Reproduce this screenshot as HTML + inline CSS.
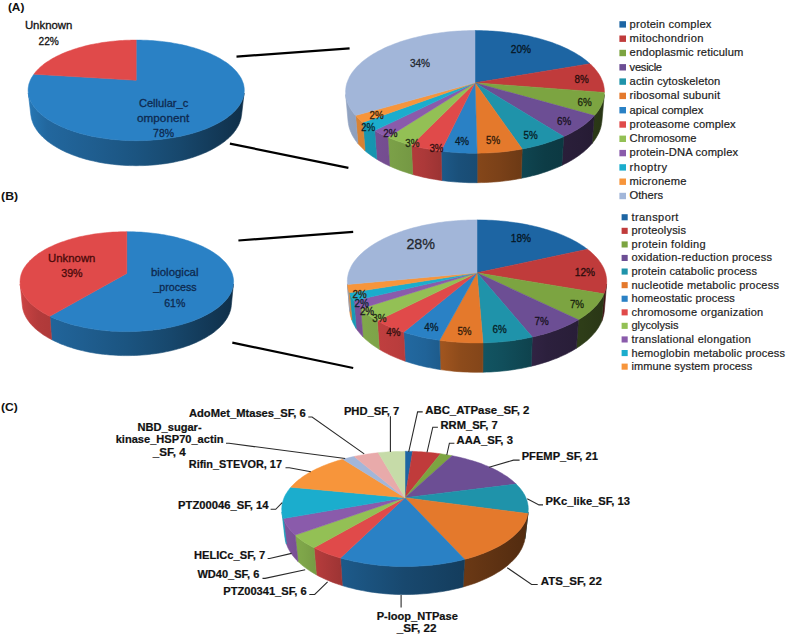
<!DOCTYPE html>
<html><head><meta charset="utf-8"><title>GO and superfamily pie charts</title>
<style>html,body{margin:0;padding:0;background:#fff;overflow:hidden;}svg{display:block;font-family:"Liberation Sans",Arial,sans-serif;}</style>
</head><body>
<svg width="787" height="636" viewBox="0 0 787 636">
<defs><linearGradient id="g1" gradientUnits="userSpaceOnUse" x1="25" y1="0" x2="247.4" y2="0"><stop offset="0" stop-color="#297dbf"/><stop offset="0.04" stop-color="#2572ad"/><stop offset="0.1" stop-color="#22679e"/><stop offset="0.3" stop-color="#1f5e90"/><stop offset="0.5" stop-color="#1b5480"/><stop offset="0.7" stop-color="#17476c"/><stop offset="0.85" stop-color="#133a59"/><stop offset="1" stop-color="#0f2e47"/></linearGradient>
<linearGradient id="g2" gradientUnits="userSpaceOnUse" x1="16.2" y1="0" x2="237.4" y2="0"><stop offset="0" stop-color="#297dbf"/><stop offset="0.04" stop-color="#2572ad"/><stop offset="0.1" stop-color="#22679e"/><stop offset="0.3" stop-color="#1f5e90"/><stop offset="0.5" stop-color="#1b5480"/><stop offset="0.7" stop-color="#17476c"/><stop offset="0.85" stop-color="#133a59"/><stop offset="1" stop-color="#0f2e47"/></linearGradient>
<linearGradient id="g3" gradientUnits="userSpaceOnUse" x1="16.2" y1="0" x2="237.4" y2="0"><stop offset="0" stop-color="#d94848"/><stop offset="0.04" stop-color="#c54141"/><stop offset="0.1" stop-color="#b33b3b"/><stop offset="0.3" stop-color="#a43636"/><stop offset="0.5" stop-color="#923030"/><stop offset="0.7" stop-color="#7b2929"/><stop offset="0.85" stop-color="#652121"/><stop offset="1" stop-color="#511b1b"/></linearGradient>
<linearGradient id="g4" gradientUnits="userSpaceOnUse" x1="340.6" y1="0" x2="609.4" y2="0"><stop offset="0" stop-color="#70943a"/><stop offset="0.2" stop-color="#678836"/><stop offset="0.31" stop-color="#5f7e32"/><stop offset="0.44" stop-color="#4d6628"/><stop offset="0.59" stop-color="#435923"/><stop offset="0.76" stop-color="#33431b"/><stop offset="0.89" stop-color="#2e3d18"/><stop offset="1" stop-color="#283415"/></linearGradient>
<linearGradient id="g5" gradientUnits="userSpaceOnUse" x1="340.6" y1="0" x2="609.4" y2="0"><stop offset="0" stop-color="#614685"/><stop offset="0.2" stop-color="#5a417b"/><stop offset="0.31" stop-color="#533c72"/><stop offset="0.44" stop-color="#43305c"/><stop offset="0.59" stop-color="#3a2a50"/><stop offset="0.76" stop-color="#2c203d"/><stop offset="0.89" stop-color="#281d37"/><stop offset="1" stop-color="#23192f"/></linearGradient>
<linearGradient id="g6" gradientUnits="userSpaceOnUse" x1="340.6" y1="0" x2="609.4" y2="0"><stop offset="0" stop-color="#1c8499"/><stop offset="0.2" stop-color="#1a7a8d"/><stop offset="0.31" stop-color="#187183"/><stop offset="0.44" stop-color="#135b69"/><stop offset="0.59" stop-color="#114f5c"/><stop offset="0.76" stop-color="#0d3c46"/><stop offset="0.89" stop-color="#0b363f"/><stop offset="1" stop-color="#0a2f36"/></linearGradient>
<linearGradient id="g7" gradientUnits="userSpaceOnUse" x1="340.6" y1="0" x2="609.4" y2="0"><stop offset="0" stop-color="#cd6d28"/><stop offset="0.2" stop-color="#bd6425"/><stop offset="0.31" stop-color="#b05d22"/><stop offset="0.44" stop-color="#8d4b1b"/><stop offset="0.59" stop-color="#7b4118"/><stop offset="0.76" stop-color="#5d3212"/><stop offset="0.89" stop-color="#542d10"/><stop offset="1" stop-color="#49270e"/></linearGradient>
<linearGradient id="g8" gradientUnits="userSpaceOnUse" x1="340.6" y1="0" x2="609.4" y2="0"><stop offset="0" stop-color="#2674b1"/><stop offset="0.2" stop-color="#236ba4"/><stop offset="0.31" stop-color="#206398"/><stop offset="0.44" stop-color="#1a507a"/><stop offset="0.59" stop-color="#17466a"/><stop offset="0.76" stop-color="#113551"/><stop offset="0.89" stop-color="#103049"/><stop offset="1" stop-color="#0d293f"/></linearGradient>
<linearGradient id="g9" gradientUnits="userSpaceOnUse" x1="340.6" y1="0" x2="609.4" y2="0"><stop offset="0" stop-color="#ca4343"/><stop offset="0.2" stop-color="#ba3d3d"/><stop offset="0.31" stop-color="#ac3939"/><stop offset="0.44" stop-color="#8b2e2e"/><stop offset="0.59" stop-color="#792828"/><stop offset="0.76" stop-color="#5c1e1e"/><stop offset="0.89" stop-color="#531b1b"/><stop offset="1" stop-color="#481818"/></linearGradient>
<linearGradient id="g10" gradientUnits="userSpaceOnUse" x1="340.6" y1="0" x2="609.4" y2="0"><stop offset="0" stop-color="#84ad4c"/><stop offset="0.2" stop-color="#7a9f47"/><stop offset="0.31" stop-color="#719441"/><stop offset="0.44" stop-color="#5b7735"/><stop offset="0.59" stop-color="#4f682e"/><stop offset="0.76" stop-color="#3c4f23"/><stop offset="0.89" stop-color="#36471f"/><stop offset="1" stop-color="#2f3d1b"/></linearGradient>
<linearGradient id="g11" gradientUnits="userSpaceOnUse" x1="340.6" y1="0" x2="609.4" y2="0"><stop offset="0" stop-color="#7c529a"/><stop offset="0.2" stop-color="#734c8e"/><stop offset="0.31" stop-color="#6a4684"/><stop offset="0.44" stop-color="#56386a"/><stop offset="0.59" stop-color="#4b315c"/><stop offset="0.76" stop-color="#392546"/><stop offset="0.89" stop-color="#33223f"/><stop offset="1" stop-color="#2c1d37"/></linearGradient>
<linearGradient id="g12" gradientUnits="userSpaceOnUse" x1="340.6" y1="0" x2="609.4" y2="0"><stop offset="0" stop-color="#189cb8"/><stop offset="0.2" stop-color="#1690aa"/><stop offset="0.31" stop-color="#15859e"/><stop offset="0.44" stop-color="#116b7f"/><stop offset="0.59" stop-color="#0f5d6f"/><stop offset="0.76" stop-color="#0b4754"/><stop offset="0.89" stop-color="#0a404c"/><stop offset="1" stop-color="#093742"/></linearGradient>
<linearGradient id="g13" gradientUnits="userSpaceOnUse" x1="340.6" y1="0" x2="609.4" y2="0"><stop offset="0" stop-color="#de8635"/><stop offset="0.2" stop-color="#cd7c31"/><stop offset="0.31" stop-color="#be732d"/><stop offset="0.44" stop-color="#995c25"/><stop offset="0.59" stop-color="#855020"/><stop offset="0.76" stop-color="#653d18"/><stop offset="0.89" stop-color="#5b3716"/><stop offset="1" stop-color="#4f3013"/></linearGradient>
<linearGradient id="g14" gradientUnits="userSpaceOnUse" x1="340.6" y1="0" x2="609.4" y2="0"><stop offset="0" stop-color="#92a4c3"/><stop offset="0.2" stop-color="#8697b4"/><stop offset="0.31" stop-color="#7d8ca7"/><stop offset="0.44" stop-color="#647187"/><stop offset="0.59" stop-color="#576275"/><stop offset="0.76" stop-color="#424b59"/><stop offset="0.89" stop-color="#3c4350"/><stop offset="1" stop-color="#343a45"/></linearGradient>
<linearGradient id="g15" gradientUnits="userSpaceOnUse" x1="342.2" y1="0" x2="611.8" y2="0"><stop offset="0" stop-color="#ad3535"/><stop offset="0.2" stop-color="#9f3131"/><stop offset="0.31" stop-color="#942d2d"/><stop offset="0.44" stop-color="#772525"/><stop offset="0.59" stop-color="#682020"/><stop offset="0.76" stop-color="#4f1818"/><stop offset="0.89" stop-color="#471616"/><stop offset="1" stop-color="#3d1313"/></linearGradient>
<linearGradient id="g16" gradientUnits="userSpaceOnUse" x1="342.2" y1="0" x2="611.8" y2="0"><stop offset="0" stop-color="#70943a"/><stop offset="0.2" stop-color="#678836"/><stop offset="0.31" stop-color="#5f7e32"/><stop offset="0.44" stop-color="#4d6628"/><stop offset="0.59" stop-color="#435923"/><stop offset="0.76" stop-color="#33431b"/><stop offset="0.89" stop-color="#2e3d18"/><stop offset="1" stop-color="#283415"/></linearGradient>
<linearGradient id="g17" gradientUnits="userSpaceOnUse" x1="342.2" y1="0" x2="611.8" y2="0"><stop offset="0" stop-color="#614685"/><stop offset="0.2" stop-color="#5a417b"/><stop offset="0.31" stop-color="#533c72"/><stop offset="0.44" stop-color="#43305c"/><stop offset="0.59" stop-color="#3a2a50"/><stop offset="0.76" stop-color="#2c203d"/><stop offset="0.89" stop-color="#281d37"/><stop offset="1" stop-color="#23192f"/></linearGradient>
<linearGradient id="g18" gradientUnits="userSpaceOnUse" x1="342.2" y1="0" x2="611.8" y2="0"><stop offset="0" stop-color="#1c8499"/><stop offset="0.2" stop-color="#1a7a8d"/><stop offset="0.31" stop-color="#187183"/><stop offset="0.44" stop-color="#135b69"/><stop offset="0.59" stop-color="#114f5c"/><stop offset="0.76" stop-color="#0d3c46"/><stop offset="0.89" stop-color="#0b363f"/><stop offset="1" stop-color="#0a2f36"/></linearGradient>
<linearGradient id="g19" gradientUnits="userSpaceOnUse" x1="342.2" y1="0" x2="611.8" y2="0"><stop offset="0" stop-color="#cd6d28"/><stop offset="0.2" stop-color="#bd6425"/><stop offset="0.31" stop-color="#b05d22"/><stop offset="0.44" stop-color="#8d4b1b"/><stop offset="0.59" stop-color="#7b4118"/><stop offset="0.76" stop-color="#5d3212"/><stop offset="0.89" stop-color="#542d10"/><stop offset="1" stop-color="#49270e"/></linearGradient>
<linearGradient id="g20" gradientUnits="userSpaceOnUse" x1="342.2" y1="0" x2="611.8" y2="0"><stop offset="0" stop-color="#2674b1"/><stop offset="0.2" stop-color="#236ba4"/><stop offset="0.31" stop-color="#206398"/><stop offset="0.44" stop-color="#1a507a"/><stop offset="0.59" stop-color="#17466a"/><stop offset="0.76" stop-color="#113551"/><stop offset="0.89" stop-color="#103049"/><stop offset="1" stop-color="#0d293f"/></linearGradient>
<linearGradient id="g21" gradientUnits="userSpaceOnUse" x1="342.2" y1="0" x2="611.8" y2="0"><stop offset="0" stop-color="#ca4343"/><stop offset="0.2" stop-color="#ba3d3d"/><stop offset="0.31" stop-color="#ac3939"/><stop offset="0.44" stop-color="#8b2e2e"/><stop offset="0.59" stop-color="#792828"/><stop offset="0.76" stop-color="#5c1e1e"/><stop offset="0.89" stop-color="#531b1b"/><stop offset="1" stop-color="#481818"/></linearGradient>
<linearGradient id="g22" gradientUnits="userSpaceOnUse" x1="342.2" y1="0" x2="611.8" y2="0"><stop offset="0" stop-color="#84ad4c"/><stop offset="0.2" stop-color="#7a9f47"/><stop offset="0.31" stop-color="#719441"/><stop offset="0.44" stop-color="#5b7735"/><stop offset="0.59" stop-color="#4f682e"/><stop offset="0.76" stop-color="#3c4f23"/><stop offset="0.89" stop-color="#36471f"/><stop offset="1" stop-color="#2f3d1b"/></linearGradient>
<linearGradient id="g23" gradientUnits="userSpaceOnUse" x1="342.2" y1="0" x2="611.8" y2="0"><stop offset="0" stop-color="#7c529a"/><stop offset="0.2" stop-color="#734c8e"/><stop offset="0.31" stop-color="#6a4684"/><stop offset="0.44" stop-color="#56386a"/><stop offset="0.59" stop-color="#4b315c"/><stop offset="0.76" stop-color="#392546"/><stop offset="0.89" stop-color="#33223f"/><stop offset="1" stop-color="#2c1d37"/></linearGradient>
<linearGradient id="g24" gradientUnits="userSpaceOnUse" x1="342.2" y1="0" x2="611.8" y2="0"><stop offset="0" stop-color="#189cb8"/><stop offset="0.2" stop-color="#1690aa"/><stop offset="0.31" stop-color="#15859e"/><stop offset="0.44" stop-color="#116b7f"/><stop offset="0.59" stop-color="#0f5d6f"/><stop offset="0.76" stop-color="#0b4754"/><stop offset="0.89" stop-color="#0a404c"/><stop offset="1" stop-color="#093742"/></linearGradient>
<linearGradient id="g25" gradientUnits="userSpaceOnUse" x1="342.2" y1="0" x2="611.8" y2="0"><stop offset="0" stop-color="#de8635"/><stop offset="0.2" stop-color="#cd7c31"/><stop offset="0.31" stop-color="#be732d"/><stop offset="0.44" stop-color="#995c25"/><stop offset="0.59" stop-color="#855020"/><stop offset="0.76" stop-color="#653d18"/><stop offset="0.89" stop-color="#5b3716"/><stop offset="1" stop-color="#4f3013"/></linearGradient>
<linearGradient id="g26" gradientUnits="userSpaceOnUse" x1="342.2" y1="0" x2="611.8" y2="0"><stop offset="0" stop-color="#92a4c3"/><stop offset="0.2" stop-color="#8697b4"/><stop offset="0.31" stop-color="#7d8ca7"/><stop offset="0.44" stop-color="#647187"/><stop offset="0.59" stop-color="#576275"/><stop offset="0.76" stop-color="#424b59"/><stop offset="0.89" stop-color="#3c4350"/><stop offset="1" stop-color="#343a45"/></linearGradient>
<linearGradient id="g27" gradientUnits="userSpaceOnUse" x1="278.1" y1="0" x2="531.9" y2="0"><stop offset="0" stop-color="#1d879c"/><stop offset="0.1" stop-color="#1b7e92"/><stop offset="0.25" stop-color="#166777"/><stop offset="0.5" stop-color="#11525f"/><stop offset="0.73" stop-color="#0f4550"/><stop offset="1" stop-color="#0b333b"/></linearGradient>
<linearGradient id="g28" gradientUnits="userSpaceOnUse" x1="278.1" y1="0" x2="531.9" y2="0"><stop offset="0" stop-color="#d26f28"/><stop offset="0.1" stop-color="#c46826"/><stop offset="0.25" stop-color="#a0551f"/><stop offset="0.5" stop-color="#804419"/><stop offset="0.73" stop-color="#6b3915"/><stop offset="1" stop-color="#502a0f"/></linearGradient>
<linearGradient id="g29" gradientUnits="userSpaceOnUse" x1="278.1" y1="0" x2="531.9" y2="0"><stop offset="0" stop-color="#2777b5"/><stop offset="0.1" stop-color="#246fa9"/><stop offset="0.25" stop-color="#1d5a8a"/><stop offset="0.5" stop-color="#18486e"/><stop offset="0.73" stop-color="#143d5d"/><stop offset="1" stop-color="#0f2d45"/></linearGradient>
<linearGradient id="g30" gradientUnits="userSpaceOnUse" x1="278.1" y1="0" x2="531.9" y2="0"><stop offset="0" stop-color="#ce4444"/><stop offset="0.1" stop-color="#c14040"/><stop offset="0.25" stop-color="#9d3434"/><stop offset="0.5" stop-color="#7d2929"/><stop offset="0.73" stop-color="#692323"/><stop offset="1" stop-color="#4e1a1a"/></linearGradient>
<linearGradient id="g31" gradientUnits="userSpaceOnUse" x1="278.1" y1="0" x2="531.9" y2="0"><stop offset="0" stop-color="#87b14e"/><stop offset="0.1" stop-color="#7ea549"/><stop offset="0.25" stop-color="#67863b"/><stop offset="0.5" stop-color="#526c30"/><stop offset="0.73" stop-color="#455a28"/><stop offset="1" stop-color="#33431e"/></linearGradient>
<linearGradient id="g32" gradientUnits="userSpaceOnUse" x1="278.1" y1="0" x2="531.9" y2="0"><stop offset="0" stop-color="#7f549d"/><stop offset="0.1" stop-color="#774e93"/><stop offset="0.25" stop-color="#614078"/><stop offset="0.5" stop-color="#4d3360"/><stop offset="0.73" stop-color="#412b50"/><stop offset="1" stop-color="#30203c"/></linearGradient>
<linearGradient id="g33" gradientUnits="userSpaceOnUse" x1="278.1" y1="0" x2="531.9" y2="0"><stop offset="0" stop-color="#199fbd"/><stop offset="0.1" stop-color="#1795b0"/><stop offset="0.25" stop-color="#137990"/><stop offset="0.5" stop-color="#0f6173"/><stop offset="0.73" stop-color="#0d5160"/><stop offset="1" stop-color="#093d48"/></linearGradient></defs>
<rect width="787" height="636" fill="#fff"/>
<polygon fill="url(#g1)" stroke="url(#g1)" stroke-width="0.6" points="244.1,93.1 243.9,94.5 243.6,95.9 243.3,97.3 242.8,98.6 242.3,100 241.7,101.4 241,102.8 240.2,104.1 239.3,105.5 238.3,106.9 237.2,108.2 236.1,109.6 234.9,110.9 233.5,112.2 232.1,113.6 230.6,114.9 229,116.1 227.3,117.4 225.6,118.7 223.7,119.9 221.8,121.1 219.7,122.3 217.6,123.5 215.4,124.6 213.1,125.7 210.7,126.8 208.3,127.8 205.8,128.9 203.2,129.8 200.5,130.8 197.8,131.7 195,132.6 192.1,133.4 189.1,134.2 186.1,135 183.1,135.7 180,136.4 176.8,137 173.6,137.6 170.3,138.1 167,138.6 163.7,139 160.3,139.4 156.9,139.7 153.5,140 150.1,140.3 146.6,140.4 143.2,140.6 139.7,140.6 136.2,140.7 132.7,140.6 129.2,140.6 125.8,140.4 122.3,140.3 118.9,140 115.5,139.7 112.1,139.4 108.7,139 105.4,138.6 102.1,138.1 98.8,137.6 95.6,137 92.4,136.4 89.3,135.7 86.3,135 83.3,134.2 80.3,133.4 77.4,132.6 74.6,131.7 71.9,130.8 69.2,129.8 66.6,128.9 64.1,127.8 61.7,126.8 59.3,125.7 57,124.6 54.8,123.5 52.7,122.3 50.6,121.1 48.7,119.9 46.8,118.7 45.1,117.4 43.4,116.1 41.8,114.9 40.3,113.6 38.9,112.2 37.5,110.9 36.3,109.6 35.2,108.2 34.1,106.9 33.1,105.5 32.2,104.1 31.4,102.8 30.7,101.4 30.1,100 29.6,98.6 29.1,97.3 28.8,95.9 28.5,94.5 28.3,93.1 30.9,115.5 31.2,116.9 31.4,118.4 31.8,119.8 32.3,121.3 32.8,122.8 33.4,124.2 34.1,125.7 34.9,127.1 35.8,128.6 36.7,130 37.8,131.4 38.9,132.9 40.1,134.3 41.4,135.7 42.8,137.1 44.3,138.5 45.9,139.8 47.5,141.2 49.3,142.5 51.1,143.8 53,145.1 55,146.3 57,147.5 59.2,148.7 61.4,149.9 63.7,151.1 66.1,152.2 68.6,153.2 71.1,154.3 73.7,155.3 76.4,156.2 79.1,157.2 81.9,158.1 84.8,158.9 87.7,159.7 90.7,160.4 93.7,161.1 96.8,161.8 99.9,162.4 103.1,163 106.3,163.5 109.5,163.9 112.8,164.3 116.1,164.7 119.4,165 122.7,165.2 126.1,165.4 129.4,165.6 132.8,165.6 136.2,165.7 139.6,165.6 143,165.6 146.3,165.4 149.7,165.2 153,165 156.3,164.7 159.6,164.3 162.9,163.9 166.1,163.5 169.3,163 172.5,162.4 175.6,161.8 178.7,161.1 181.7,160.4 184.7,159.7 187.6,158.9 190.5,158.1 193.3,157.2 196,156.2 198.7,155.3 201.3,154.3 203.8,153.2 206.3,152.2 208.7,151.1 211,149.9 213.2,148.7 215.4,147.5 217.4,146.3 219.4,145.1 221.3,143.8 223.1,142.5 224.9,141.2 226.5,139.8 228.1,138.5 229.6,137.1 231,135.7 232.3,134.3 233.5,132.9 234.6,131.4 235.7,130 236.6,128.6 237.5,127.1 238.3,125.7 239,124.2 239.6,122.8 240.1,121.3 240.6,119.8 241,118.4 241.2,116.9 241.5,115.5"/>
<polygon fill="#2a81c5" stroke="#2a81c5" stroke-width="0.5" stroke-linejoin="round" points="136.2,80.3 136.2,40.1 138.5,40.1 140.8,40.1 143.1,40.2 145.4,40.2 147.7,40.3 150,40.5 152.3,40.6 154.6,40.8 156.9,41 159.2,41.2 161.4,41.4 163.7,41.7 165.9,42 168.2,42.3 170.4,42.6 172.6,43 174.8,43.4 177,43.8 179.2,44.2 181.3,44.6 183.5,45.1 185.6,45.6 187.7,46.1 189.8,46.7 191.8,47.2 193.9,47.8 195.9,48.4 197.9,49.1 199.9,49.7 201.8,50.4 203.7,51.1 205.6,51.8 207.5,52.5 209.3,53.3 211.1,54.1 212.9,54.9 214.6,55.7 216.3,56.6 218,57.5 219.6,58.3 221.2,59.3 222.7,60.2 224.2,61.2 225.7,62.1 227.1,63.1 228.5,64.1 229.8,65.2 231.1,66.2 232.3,67.3 233.5,68.4 234.6,69.5 235.7,70.7 236.7,71.8 237.6,73 238.5,74.2 239.4,75.4 240.1,76.6 240.9,77.8 241.5,79 242.1,80.3 242.6,81.6 243.1,82.9 243.5,84.1 243.8,85.5 244,86.8 244.2,88.1 244.3,89.4 244.3,90.8 244.2,92.1 244.1,93.5 243.9,94.8 243.6,96.2 243.2,97.6 242.7,98.9 242.1,100.3 241.5,101.7 240.8,103.1 240,104.4 239.1,105.8 238.1,107.1 237,108.5 235.9,109.8 234.6,111.2 233.3,112.5 231.9,113.8 230.3,115.1 228.7,116.4 227.1,117.6 225.3,118.9 223.4,120.1 221.5,121.3 219.4,122.5 217.3,123.6 215.1,124.7 212.8,125.8 210.5,126.9 208,128 205.5,129 202.9,129.9 200.2,130.9 197.5,131.8 194.7,132.7 191.8,133.5 188.9,134.3 185.9,135 182.9,135.7 179.8,136.4 176.6,137 173.4,137.6 170.2,138.1 166.9,138.6 163.6,139 160.2,139.4 156.8,139.7 153.4,140 150,140.3 146.6,140.4 143.1,140.6 139.7,140.6 136.2,140.7 132.7,140.6 129.3,140.6 125.8,140.4 122.4,140.3 119,140 115.6,139.7 112.2,139.4 108.8,139 105.5,138.6 102.2,138.1 99,137.6 95.8,137 92.6,136.4 89.5,135.7 86.5,135 83.5,134.3 80.6,133.5 77.7,132.7 74.9,131.8 72.2,130.9 69.5,129.9 66.9,129 64.4,128 61.9,126.9 59.6,125.8 57.3,124.7 55.1,123.6 53,122.5 50.9,121.3 49,120.1 47.1,118.9 45.3,117.6 43.7,116.4 42.1,115.1 40.5,113.8 39.1,112.5 37.8,111.2 36.5,109.8 35.4,108.5 34.3,107.1 33.3,105.8 32.4,104.4 31.6,103.1 30.9,101.7 30.3,100.3 29.7,98.9 29.2,97.6 28.8,96.2 28.5,94.8 28.3,93.5 28.2,92.1 28.1,90.8 28.1,89.4 28.2,88.1 28.4,86.8 28.6,85.5 28.9,84.1 29.3,82.9 29.8,81.6 30.3,80.3 30.9,79 31.5,77.8 32.3,76.6 33,75.4 33.9,74.2"/>
<polygon fill="#e04a4a" stroke="#e04a4a" stroke-width="0.5" stroke-linejoin="round" points="136.2,80.3 33.9,74.2 34.8,73 35.7,71.8 36.7,70.7 37.8,69.5 38.9,68.4 40.1,67.3 41.3,66.2 42.6,65.2 43.9,64.1 45.3,63.1 46.7,62.1 48.2,61.2 49.7,60.2 51.2,59.3 52.8,58.3 54.4,57.5 56.1,56.6 57.8,55.7 59.5,54.9 61.3,54.1 63.1,53.3 64.9,52.5 66.8,51.8 68.7,51.1 70.6,50.4 72.5,49.7 74.5,49.1 76.5,48.4 78.5,47.8 80.6,47.2 82.6,46.7 84.7,46.1 86.8,45.6 88.9,45.1 91.1,44.6 93.2,44.2 95.4,43.8 97.6,43.4 99.8,43 102,42.6 104.2,42.3 106.5,42 108.7,41.7 111,41.4 113.2,41.2 115.5,41 117.8,40.8 120.1,40.6 122.4,40.5 124.7,40.3 127,40.2 129.3,40.2 131.6,40.1 133.9,40.1 136.2,40.1"/>
<polygon fill="url(#g2)" stroke="url(#g2)" stroke-width="0.6" points="233.4,284 233.3,285.3 233,286.6 232.7,288 232.3,289.3 231.8,290.7 231.2,292 230.6,293.4 229.8,294.7 229,296.1 228.1,297.4 227.1,298.7 226.1,300 224.9,301.3 223.7,302.6 222.3,303.9 220.9,305.2 219.5,306.5 217.9,307.7 216.2,308.9 214.5,310.1 212.7,311.3 210.8,312.5 208.8,313.6 206.8,314.8 204.6,315.8 202.4,316.9 200.1,318 197.8,319 195.4,319.9 192.9,320.9 190.3,321.8 187.7,322.7 185,323.5 182.3,324.3 179.5,325.1 176.6,325.8 173.7,326.5 170.7,327.2 167.7,327.8 164.7,328.4 161.6,328.9 158.4,329.4 155.3,329.8 152.1,330.2 148.9,330.5 145.6,330.8 142.4,331.1 139.1,331.3 135.8,331.4 132.5,331.5 129.2,331.6 125.8,331.6 122.5,331.6 119.2,331.5 115.9,331.3 112.6,331.2 109.4,330.9 106.1,330.7 102.9,330.3 99.7,330 96.5,329.5 93.3,329.1 90.2,328.6 87.2,328 84.1,327.4 81.2,326.8 78.2,326.1 75.3,325.4 72.5,324.7 69.8,323.9 67,323 64.4,322.2 61.8,321.3 59.3,320.3 56.8,319.4 54.5,318.4 52.1,317.4 49.9,316.3 51.6,339.6 53.8,340.7 56.1,341.8 58.4,342.8 60.8,343.9 63.3,344.8 65.8,345.8 68.4,346.7 71.1,347.5 73.8,348.4 76.5,349.2 79.3,349.9 82.2,350.6 85.1,351.3 88.1,351.9 91.1,352.5 94.1,353 97.2,353.5 100.3,353.9 103.4,354.3 106.6,354.6 109.8,354.9 113,355.1 116.2,355.3 119.4,355.5 122.6,355.6 125.9,355.6 129.1,355.6 132.3,355.5 135.6,355.4 138.8,355.3 142,355 145.2,354.8 148.4,354.5 151.5,354.1 154.6,353.7 157.7,353.3 160.8,352.8 163.8,352.2 166.8,351.6 169.7,351 172.6,350.3 175.5,349.6 178.2,348.8 181,348 183.7,347.2 186.3,346.3 188.9,345.4 191.4,344.4 193.8,343.4 196.2,342.4 198.5,341.3 200.7,340.3 202.9,339.1 205,338 207,336.8 208.9,335.6 210.8,334.4 212.6,333.2 214.3,331.9 215.9,330.6 217.4,329.3 218.9,328 220.3,326.7 221.6,325.3 222.8,324 224,322.6 225,321.2 226,319.8 226.9,318.4 227.7,317 228.4,315.6 229.1,314.2 229.6,312.8 230.1,311.4 230.5,310 230.9,308.6 231.1,307.2 231.3,305.7"/>
<polygon fill="url(#g3)" stroke="url(#g3)" stroke-width="0.6" points="49.9,316.3 47.7,315.2 45.6,314.1 43.5,312.9 41.6,311.7 39.7,310.5 37.9,309.3 36.2,308.1 34.6,306.8 33.1,305.5 31.6,304.3 30.2,303 29,301.6 27.8,300.3 26.7,299 25.6,297.6 24.7,296.3 23.9,294.9 23.1,293.5 22.4,292.2 21.8,290.8 21.3,289.4 20.9,288.1 20.6,286.7 20.3,285.3 20.2,284 22.3,305.7 22.5,307.2 22.7,308.6 23.1,310 23.5,311.5 24,312.9 24.6,314.4 25.3,315.8 26,317.2 26.9,318.7 27.8,320.1 28.8,321.5 29.9,322.9 31,324.3 32.3,325.7 33.7,327 35.1,328.4 36.6,329.7 38.2,331 39.9,332.3 41.6,333.6 43.5,334.9 45.4,336.1 47.4,337.3 49.5,338.5 51.6,339.6"/>
<polygon fill="#2a81c5" stroke="#2a81c5" stroke-width="0.5" stroke-linejoin="round" points="126.8,273.4 126.8,231.7 129.2,231.7 131.5,231.7 133.9,231.8 136.3,231.9 138.6,232 141,232.1 143.4,232.3 145.7,232.5 148,232.7 150.4,232.9 152.7,233.2 155,233.5 157.3,233.8 159.6,234.1 161.9,234.5 164.1,234.8 166.4,235.2 168.6,235.7 170.8,236.1 173,236.6 175.2,237.1 177.3,237.6 179.4,238.2 181.5,238.8 183.6,239.3 185.7,240 187.7,240.6 189.7,241.3 191.7,242 193.6,242.7 195.6,243.4 197.4,244.2 199.3,245 201.1,245.8 202.9,246.6 204.6,247.4 206.3,248.3 208,249.2 209.6,250.1 211.2,251.1 212.8,252 214.3,253 215.7,254 217.1,255 218.5,256 219.8,257.1 221,258.2 222.2,259.3 223.4,260.4 224.5,261.5 225.5,262.6 226.5,263.8 227.4,265 228.3,266.2 229.1,267.4 229.9,268.6 230.5,269.8 231.1,271.1 231.7,272.3 232.2,273.6 232.6,274.9 232.9,276.2 233.2,277.5 233.4,278.8 233.5,280.1 233.6,281.4 233.5,282.8 233.4,284.1 233.3,285.5 233,286.8 232.7,288.1 232.2,289.5 231.7,290.8 231.2,292.2 230.5,293.5 229.8,294.9 228.9,296.2 228,297.5 227,298.9 225.9,300.2 224.8,301.5 223.5,302.8 222.2,304.1 220.8,305.3 219.3,306.6 217.7,307.8 216.1,309 214.3,310.2 212.5,311.4 210.6,312.6 208.6,313.7 206.6,314.8 204.4,315.9 202.2,317 200,318 197.6,319 195.2,320 192.7,321 190.1,321.9 187.5,322.7 184.8,323.6 182.1,324.4 179.3,325.2 176.4,325.9 173.5,326.6 170.5,327.2 167.5,327.8 164.5,328.4 161.4,328.9 158.3,329.4 155.1,329.8 151.9,330.2 148.7,330.5 145.5,330.8 142.2,331.1 138.9,331.3 135.6,331.4 132.3,331.5 129,331.6 125.7,331.6 122.4,331.6 119.1,331.5 115.8,331.3 112.5,331.2 109.3,330.9 106,330.6 102.8,330.3 99.6,330 96.4,329.5 93.3,329.1 90.2,328.6 87.1,328 84.1,327.4 81.1,326.8 78.2,326.1 75.3,325.4 72.5,324.7 69.7,323.9 67,323 64.4,322.2 61.8,321.3 59.3,320.3 56.8,319.4 54.4,318.4 52.1,317.4 49.9,316.3"/>
<polygon fill="#e04a4a" stroke="#e04a4a" stroke-width="0.5" stroke-linejoin="round" points="126.8,273.4 49.9,316.3 47.7,315.2 45.6,314.1 43.6,313 41.7,311.8 39.8,310.6 38.1,309.4 36.4,308.2 34.8,307 33.2,305.7 31.8,304.4 30.4,303.2 29.2,301.9 28,300.6 26.9,299.2 25.9,297.9 24.9,296.6 24.1,295.2 23.3,293.9 22.6,292.6 22,291.2 21.5,289.8 21,288.5 20.7,287.1 20.4,285.8 20.2,284.4 20.1,283.1 20,281.8 20.1,280.4 20.2,279.1 20.4,277.8 20.6,276.5 20.9,275.2 21.3,273.9 21.8,272.6 22.3,271.3 22.9,270.1 23.6,268.8 24.3,267.6 25.1,266.4 26,265.2 26.9,264 27.9,262.9 28.9,261.7 30,260.6 31.1,259.5 32.3,258.4 33.6,257.3 34.9,256.2 36.3,255.2 37.7,254.1 39.1,253.1 40.6,252.2 42.2,251.2 43.7,250.3 45.4,249.3 47,248.4 48.7,247.6 50.5,246.7 52.3,245.9 54.1,245.1 55.9,244.3 57.8,243.5 59.7,242.8 61.7,242 63.7,241.4 65.7,240.7 67.7,240 69.8,239.4 71.9,238.8 74,238.2 76.1,237.7 78.3,237.1 80.5,236.6 82.6,236.2 84.9,235.7 87.1,235.3 89.3,234.9 91.6,234.5 93.9,234.1 96.2,233.8 98.5,233.5 100.8,233.2 103.1,232.9 105.5,232.7 107.8,232.5 110.2,232.3 112.5,232.1 114.9,232 117.3,231.9 119.7,231.8 122,231.7 124.4,231.7 126.8,231.7"/>
<polygon fill="url(#g4)" stroke="url(#g4)" stroke-width="0.6" points="604.3,94.5 604.1,96.3 603.8,98 603.3,99.8 602.8,101.6 602.1,103.4 601.4,105.1 600.5,106.9 599.5,108.7 598.4,110.4 597.1,112.2 595.8,113.9 594.3,115.6 592,143.6 593.4,141.8 594.7,140 595.9,138.2 597,136.3 598,134.5 598.9,132.7 599.7,130.8 600.3,129 600.9,127.1 601.3,125.2 601.6,123.4 601.9,121.6"/>
<polygon fill="url(#g5)" stroke="url(#g5)" stroke-width="0.6" points="594.3,115.6 592.8,117.3 591.2,118.9 589.5,120.5 587.6,122.1 585.7,123.7 583.7,125.2 581.5,126.7 579.2,128.2 576.9,129.7 574.4,131.1 571.9,132.6 569.2,133.9 566.5,135.3 563.7,136.6 561.8,165.4 564.6,164 567.3,162.7 569.9,161.2 572.4,159.8 574.8,158.3 577.1,156.7 579.3,155.2 581.4,153.6 583.5,152 585.4,150.3 587.2,148.7 588.9,147 590.5,145.3 592,143.6"/>
<polygon fill="url(#g6)" stroke="url(#g6)" stroke-width="0.6" points="563.7,136.6 560.7,137.9 557.6,139.1 554.4,140.3 551.1,141.5 547.8,142.6 544.3,143.7 540.8,144.7 537.2,145.7 533.6,146.6 529.9,147.4 526.1,148.2 522.2,149 521.2,178.3 525,177.5 528.7,176.7 532.3,175.8 535.9,174.9 539.4,173.9 542.9,172.8 546.2,171.7 549.5,170.5 552.7,169.3 555.8,168.1 558.9,166.8 561.8,165.4"/>
<polygon fill="url(#g7)" stroke="url(#g7)" stroke-width="0.6" points="522.2,149 518.3,149.7 514.4,150.3 510.3,150.9 506.3,151.4 502.2,151.9 498.1,152.2 493.9,152.6 489.7,152.8 485.5,153 481.3,153.1 477.1,153.2 477.1,182.7 481.2,182.6 485.3,182.5 489.4,182.3 493.5,182 497.6,181.7 501.6,181.3 505.6,180.8 509.6,180.3 513.5,179.7 517.4,179 521.2,178.3"/>
<polygon fill="url(#g8)" stroke="url(#g8)" stroke-width="0.6" points="477.1,153.2 473,153.2 469,153.2 465,153 460.9,152.9 456.9,152.6 452.9,152.3 449,152 445,151.6 441.1,151.1 441.8,180.5 445.7,181 449.5,181.4 453.4,181.8 457.3,182.1 461.2,182.3 465.2,182.5 469.1,182.7 473.1,182.7 477.1,182.7"/>
<polygon fill="url(#g9)" stroke="url(#g9)" stroke-width="0.6" points="441.1,151.1 437.2,150.6 433.4,150 429.6,149.3 425.8,148.6 422.1,147.9 418.5,147.1 414.9,146.2 411.4,145.3 412.7,174.5 416.2,175.4 419.7,176.3 423.3,177.2 426.9,177.9 430.5,178.7 434.3,179.3 438,179.9 441.8,180.5"/>
<polygon fill="url(#g10)" stroke="url(#g10)" stroke-width="0.6" points="411.4,145.3 407.8,144.3 404.2,143.2 400.8,142.1 397.4,141 394.1,139.8 390.9,138.5 387.8,137.2 389.6,166.1 392.7,167.4 395.8,168.7 399,170 402.3,171.2 405.7,172.3 409.2,173.4 412.7,174.5"/>
<polygon fill="url(#g11)" stroke="url(#g11)" stroke-width="0.6" points="387.8,137.2 385,136 382.3,134.7 379.7,133.4 377.1,132 374.7,130.6 376.8,159.2 379.2,160.7 381.6,162.1 384.2,163.5 386.9,164.8 389.6,166.1"/>
<polygon fill="url(#g12)" stroke="url(#g12)" stroke-width="0.6" points="374.7,130.6 372.1,129.1 369.6,127.5 367.2,125.8 364.9,124.1 362.8,122.4 365,150.7 367.1,152.5 369.4,154.2 371.7,155.9 374.2,157.6 376.8,159.2"/>
<polygon fill="url(#g13)" stroke="url(#g13)" stroke-width="0.6" points="362.8,122.4 360.8,120.7 358.9,119 357.2,117.3 355.6,115.5 357.9,143.5 359.5,145.3 361.3,147.1 363.1,148.9 365,150.7"/>
<polygon fill="url(#g14)" stroke="url(#g14)" stroke-width="0.6" points="355.6,115.5 354.1,113.8 352.8,112.1 351.6,110.3 350.5,108.6 349.5,106.8 348.6,105.1 347.8,103.3 347.2,101.6 346.7,99.8 346.2,98 345.9,96.3 345.7,94.5 348.1,121.6 348.4,123.4 348.7,125.2 349.1,127.1 349.7,128.9 350.3,130.8 351.1,132.6 351.9,134.4 352.9,136.3 354,138.1 355.2,139.9 356.5,141.7 357.9,143.5"/>
<polygon fill="#1d65a3" stroke="#1d65a3" stroke-width="0.5" stroke-linejoin="round" points="475,82.8 475,30.5 477.9,30.6 480.8,30.6 483.8,30.7 486.7,30.8 489.6,30.9 492.5,31.1 495.4,31.3 498.2,31.5 501.1,31.8 504,32.1 506.8,32.4 509.7,32.8 512.5,33.2 515.3,33.6 518.1,34 520.9,34.5 523.6,35 526.3,35.6 529,36.1 531.7,36.7 534.4,37.4 537,38 539.6,38.7 542.2,39.4 544.7,40.2 547.2,41 549.7,41.8 552.2,42.6 554.6,43.5 556.9,44.4 559.3,45.3 561.6,46.3 563.8,47.3 566,48.3 568.2,49.3 570.3,50.4 572.3,51.4 574.3,52.6 576.3,53.7 578.2,54.9 580.1,56.1 581.9,57.3 583.6,58.5 585.3,59.8 586.9,61.1 588.5,62.4 590,63.7"/>
<polygon fill="#c03b3b" stroke="#c03b3b" stroke-width="0.5" stroke-linejoin="round" points="475,82.8 590,63.7 591.4,65.1 592.8,66.4 594.1,67.8 595.3,69.3 596.5,70.7 597.6,72.2 598.6,73.6 599.5,75.1 600.4,76.6 601.1,78.1 601.8,79.7 602.5,81.2 603,82.8 603.5,84.4 603.8,86 604.1,87.6 604.3,89.2 604.4,90.8 604.4,92.4"/>
<polygon fill="#7ca441" stroke="#7ca441" stroke-width="0.5" stroke-linejoin="round" points="475,82.8 604.4,92.4 604.3,94.1 604.2,95.7 603.9,97.4 603.5,99.1 603.1,100.7 602.5,102.4 601.8,104.1 601.1,105.8 600.2,107.4 599.2,109.1 598.2,110.7 597,112.4 595.7,114 594.3,115.6"/>
<polygon fill="#6c4e94" stroke="#6c4e94" stroke-width="0.5" stroke-linejoin="round" points="475,82.8 594.3,115.6 592.8,117.3 591.2,118.9 589.5,120.5 587.6,122.1 585.7,123.7 583.7,125.2 581.5,126.7 579.2,128.2 576.9,129.7 574.4,131.1 571.9,132.6 569.2,133.9 566.5,135.3 563.7,136.6"/>
<polygon fill="#1f93aa" stroke="#1f93aa" stroke-width="0.5" stroke-linejoin="round" points="475,82.8 563.7,136.6 560.7,137.9 557.6,139.1 554.4,140.3 551.1,141.5 547.8,142.6 544.3,143.7 540.8,144.7 537.2,145.7 533.6,146.6 529.9,147.4 526.1,148.2 522.2,149"/>
<polygon fill="#e4792c" stroke="#e4792c" stroke-width="0.5" stroke-linejoin="round" points="475,82.8 522.2,149 518.3,149.7 514.4,150.3 510.3,150.9 506.3,151.4 502.2,151.9 498.1,152.2 493.9,152.6 489.7,152.8 485.5,153 481.3,153.1 477.1,153.2"/>
<polygon fill="#2a81c5" stroke="#2a81c5" stroke-width="0.5" stroke-linejoin="round" points="475,82.8 477.1,153.2 473,153.2 469,153.2 465,153 460.9,152.9 456.9,152.6 452.9,152.3 449,152 445,151.6 441.1,151.1"/>
<polygon fill="#e04a4a" stroke="#e04a4a" stroke-width="0.5" stroke-linejoin="round" points="475,82.8 441.1,151.1 437.2,150.6 433.4,150 429.6,149.3 425.8,148.6 422.1,147.9 418.5,147.1 414.9,146.2 411.4,145.3"/>
<polygon fill="#93c055" stroke="#93c055" stroke-width="0.5" stroke-linejoin="round" points="475,82.8 411.4,145.3 407.8,144.3 404.2,143.2 400.8,142.1 397.4,141 394.1,139.8 390.9,138.5 387.8,137.2"/>
<polygon fill="#8a5bab" stroke="#8a5bab" stroke-width="0.5" stroke-linejoin="round" points="475,82.8 387.8,137.2 385,136 382.3,134.7 379.7,133.4 377.1,132 374.7,130.6"/>
<polygon fill="#1badcd" stroke="#1badcd" stroke-width="0.5" stroke-linejoin="round" points="475,82.8 374.7,130.6 372.1,129.1 369.6,127.5 367.2,125.8 364.9,124.1 362.8,122.4"/>
<polygon fill="#f7953b" stroke="#f7953b" stroke-width="0.5" stroke-linejoin="round" points="475,82.8 362.8,122.4 360.8,120.7 358.9,119 357.2,117.3 355.6,115.5"/>
<polygon fill="#a2b6d9" stroke="#a2b6d9" stroke-width="0.5" stroke-linejoin="round" points="475,82.8 355.6,115.5 354.2,113.9 353,112.3 351.8,110.7 350.8,109.1 349.8,107.4 349,105.8 348.2,104.2 347.5,102.5 347,100.9 346.5,99.2 346.1,97.6 345.9,95.9 345.7,94.3 345.6,92.7 345.6,91 345.7,89.4 345.9,87.8 346.1,86.2 346.5,84.6 346.9,83 347.5,81.5 348.1,79.9 348.8,78.4 349.5,76.8 350.4,75.3 351.3,73.8 352.3,72.3 353.4,70.9 354.5,69.4 355.8,68 357.1,66.6 358.4,65.2 359.9,63.9 361.3,62.5 362.9,61.2 364.5,59.9 366.2,58.7 367.9,57.4 369.7,56.2 371.6,55 373.5,53.8 375.5,52.7 377.5,51.5 379.5,50.5 381.7,49.4 383.8,48.3 386,47.3 388.3,46.3 390.6,45.4 392.9,44.5 395.3,43.6 397.7,42.7 400.1,41.8 402.6,41 405.1,40.2 407.7,39.5 410.2,38.8 412.8,38.1 415.5,37.4 418.1,36.8 420.8,36.2 423.5,35.6 426.3,35 429,34.5 431.8,34.1 434.6,33.6 437.4,33.2 440.2,32.8 443.1,32.4 445.9,32.1 448.8,31.8 451.7,31.5 454.6,31.3 457.5,31.1 460.4,30.9 463.3,30.8 466.2,30.7 469.1,30.6 472.1,30.6 475,30.5"/>
<polygon fill="url(#g15)" stroke="url(#g15)" stroke-width="0.6" points="606.6,283.9 606.4,285.6 606.1,287.2 605.7,288.9 605.3,290.5 604.7,292.2 604,293.8 601.7,321.3 602.4,319.6 602.9,317.8 603.4,316.1 603.8,314.4 604.1,312.7 604.3,311"/>
<polygon fill="url(#g16)" stroke="url(#g16)" stroke-width="0.6" points="604,293.8 603.2,295.5 602.3,297.2 601.3,298.9 600.2,300.6 598.9,302.3 597.6,304 596.2,305.7 594.6,307.3 593,308.9 591.2,310.6 589.3,312.2 587.3,313.7 585.3,315.3 583.1,316.8 580.8,318.3 578.4,319.8 576.4,348.3 578.8,346.7 581,345.2 583.2,343.6 585.2,342 587.2,340.4 589,338.7 590.8,337 592.4,335.3 593.9,333.6 595.4,331.9 596.7,330.1 597.9,328.4 599,326.6 600,324.8 600.9,323.1 601.7,321.3"/>
<polygon fill="url(#g17)" stroke="url(#g17)" stroke-width="0.6" points="578.4,319.8 575.9,321.2 573.4,322.6 570.7,323.9 568,325.2 565.1,326.5 562.2,327.8 559.2,329 556.1,330.2 552.9,331.3 549.6,332.4 546.3,333.4 542.9,334.4 539.4,335.3 535.9,336.2 532.3,337 531.2,366.2 534.7,365.4 538.2,364.4 541.6,363.5 544.9,362.4 548.2,361.4 551.4,360.2 554.5,359.1 557.6,357.9 560.5,356.6 563.4,355.3 566.2,354 568.9,352.6 571.5,351.2 574,349.7 576.4,348.3"/>
<polygon fill="url(#g18)" stroke="url(#g18)" stroke-width="0.6" points="532.3,337 528.7,337.8 525.1,338.5 521.4,339.2 517.7,339.8 514,340.4 510.2,340.9 506.4,341.3 502.5,341.7 498.7,342.1 494.8,342.3 490.9,342.6 486.9,342.7 483,342.9 482.9,372.2 486.7,372.1 490.6,372 494.4,371.7 498.2,371.4 502,371.1 505.8,370.7 509.5,370.2 513.3,369.7 516.9,369.1 520.6,368.5 524.1,367.8 527.7,367 531.2,366.2"/>
<polygon fill="url(#g19)" stroke="url(#g19)" stroke-width="0.6" points="483,342.9 479,342.9 475,342.9 471,342.9 467,342.7 463,342.6 459,342.3 455.1,342 451.2,341.7 447.3,341.3 443.4,340.8 439.6,340.3 440.3,369.6 444.1,370.1 447.9,370.6 451.7,371 455.5,371.4 459.4,371.7 463.3,371.9 467.2,372.1 471.1,372.2 475,372.3 478.9,372.3 482.9,372.2"/>
<polygon fill="url(#g20)" stroke="url(#g20)" stroke-width="0.6" points="439.6,340.3 435.7,339.7 432,339.1 428.2,338.4 424.5,337.7 420.9,336.9 417.3,336 413.8,335.1 410.4,334.2 407,333.2 403.7,332.2 405.2,361.2 408.4,362.2 411.7,363.3 415.1,364.2 418.5,365.2 422,366 425.6,366.9 429.2,367.6 432.9,368.3 436.6,369 440.3,369.6"/>
<polygon fill="url(#g21)" stroke="url(#g21)" stroke-width="0.6" points="403.7,332.2 400.5,331.1 397.3,329.9 394.1,328.7 391.1,327.5 388.2,326.2 385.3,324.9 382.6,323.6 379.9,322.2 377.3,320.8 379.3,349.3 381.8,350.8 384.4,352.2 387.1,353.6 389.9,355 392.8,356.3 395.8,357.6 398.8,358.8 402,360 405.2,361.2"/>
<polygon fill="url(#g22)" stroke="url(#g22)" stroke-width="0.6" points="377.3,320.8 374.9,319.3 372.6,317.9 370.4,316.4 368.2,314.9 366.2,313.4 364.3,311.8 362.5,310.3 360.7,308.7 362.9,336.7 364.6,338.4 366.4,340 368.3,341.6 370.3,343.2 372.4,344.8 374.6,346.3 376.9,347.8 379.3,349.3"/>
<polygon fill="url(#g23)" stroke="url(#g23)" stroke-width="0.6" points="360.7,308.7 359.2,307.1 357.7,305.5 356.3,304 355.1,302.4 353.9,300.7 356.2,328.5 357.3,330.2 358.6,331.8 360,333.5 361.4,335.1 362.9,336.7"/>
<polygon fill="url(#g24)" stroke="url(#g24)" stroke-width="0.6" points="353.9,300.7 352.6,298.8 351.4,296.7 350.4,294.7 349.5,292.7 351.9,320.1 352.7,322.2 353.7,324.3 354.9,326.4 356.2,328.5"/>
<polygon fill="url(#g25)" stroke="url(#g25)" stroke-width="0.6" points="349.5,292.7 348.9,291.1 348.4,289.4 348,287.7 347.7,286.1 347.5,284.4 349.8,311.5 350,313.2 350.3,314.9 350.7,316.7 351.3,318.4 351.9,320.1"/>
<polygon fill="url(#g26)" stroke="url(#g26)" stroke-width="0.6" points="347.5,284.4 347.4,283.9 349.7,311 349.8,311.5"/>
<polygon fill="#1d65a3" stroke="#1d65a3" stroke-width="0.5" stroke-linejoin="round" points="477,272.8 477,219.9 480,219.9 483,220 486,220.1 489,220.2 491.9,220.3 494.9,220.5 497.9,220.7 500.8,221 503.8,221.2 506.7,221.5 509.6,221.9 512.5,222.3 515.4,222.7 518.3,223.1 521.2,223.6 524,224.1 526.8,224.6 529.6,225.2 532.4,225.8 535.1,226.4 537.8,227.1 540.5,227.8 543.1,228.5 545.7,229.3 548.3,230 550.9,230.9 553.4,231.7 555.9,232.6 558.3,233.5 560.7,234.4 563.1,235.4 565.4,236.4 567.6,237.4 569.9,238.5 572,239.6 574.1,240.7 576.2,241.8 578.2,243 580.2,244.2 582.1,245.4 583.9,246.6 585.7,247.9 587.4,249.2"/>
<polygon fill="#c03b3b" stroke="#c03b3b" stroke-width="0.5" stroke-linejoin="round" points="477,272.8 587.4,249.2 589.1,250.5 590.7,251.8 592.2,253.2 593.6,254.5 595,255.9 596.3,257.3 597.6,258.8 598.8,260.2 599.8,261.7 600.9,263.2 601.8,264.7 602.7,266.2 603.5,267.8 604.2,269.3 604.8,270.9 605.3,272.5 605.8,274.1 606.1,275.7 606.4,277.3 606.6,279 606.7,280.6 606.7,282.2 606.6,283.9 606.4,285.5 606.1,287.2 605.7,288.8 605.3,290.5 604.7,292.2 604,293.8"/>
<polygon fill="#7ca441" stroke="#7ca441" stroke-width="0.5" stroke-linejoin="round" points="477,272.8 604,293.8 603.2,295.5 602.3,297.2 601.3,298.9 600.2,300.6 598.9,302.3 597.6,304 596.2,305.7 594.6,307.3 593,308.9 591.2,310.6 589.3,312.2 587.3,313.7 585.3,315.3 583.1,316.8 580.8,318.3 578.4,319.8"/>
<polygon fill="#6c4e94" stroke="#6c4e94" stroke-width="0.5" stroke-linejoin="round" points="477,272.8 578.4,319.8 575.9,321.2 573.4,322.6 570.7,323.9 568,325.2 565.1,326.5 562.2,327.8 559.2,329 556.1,330.2 552.9,331.3 549.6,332.4 546.3,333.4 542.9,334.4 539.4,335.3 535.9,336.2 532.3,337"/>
<polygon fill="#1f93aa" stroke="#1f93aa" stroke-width="0.5" stroke-linejoin="round" points="477,272.8 532.3,337 528.7,337.8 525.1,338.5 521.4,339.2 517.7,339.8 514,340.4 510.2,340.9 506.4,341.3 502.5,341.7 498.7,342.1 494.8,342.3 490.9,342.6 486.9,342.7 483,342.9"/>
<polygon fill="#e4792c" stroke="#e4792c" stroke-width="0.5" stroke-linejoin="round" points="477,272.8 483,342.9 479,342.9 475,342.9 471,342.9 467,342.7 463,342.6 459,342.3 455.1,342 451.2,341.7 447.3,341.3 443.4,340.8 439.6,340.3"/>
<polygon fill="#2a81c5" stroke="#2a81c5" stroke-width="0.5" stroke-linejoin="round" points="477,272.8 439.6,340.3 435.7,339.7 432,339.1 428.2,338.4 424.5,337.7 420.9,336.9 417.3,336 413.8,335.1 410.4,334.2 407,333.2 403.7,332.2"/>
<polygon fill="#e04a4a" stroke="#e04a4a" stroke-width="0.5" stroke-linejoin="round" points="477,272.8 403.7,332.2 400.5,331.1 397.3,329.9 394.1,328.7 391.1,327.5 388.2,326.2 385.3,324.9 382.6,323.6 379.9,322.2 377.3,320.8"/>
<polygon fill="#93c055" stroke="#93c055" stroke-width="0.5" stroke-linejoin="round" points="477,272.8 377.3,320.8 374.9,319.3 372.6,317.9 370.4,316.4 368.2,314.9 366.2,313.4 364.3,311.8 362.5,310.3 360.7,308.7"/>
<polygon fill="#8a5bab" stroke="#8a5bab" stroke-width="0.5" stroke-linejoin="round" points="477,272.8 360.7,308.7 359.2,307.1 357.7,305.5 356.3,304 355.1,302.4 353.9,300.7"/>
<polygon fill="#1badcd" stroke="#1badcd" stroke-width="0.5" stroke-linejoin="round" points="477,272.8 353.9,300.7 352.6,298.8 351.4,296.7 350.4,294.7 349.5,292.7"/>
<polygon fill="#f7953b" stroke="#f7953b" stroke-width="0.5" stroke-linejoin="round" points="477,272.8 349.5,292.7 348.9,291.1 348.4,289.4 348,287.7 347.7,286.1 347.5,284.4"/>
<polygon fill="#a2b6d9" stroke="#a2b6d9" stroke-width="0.5" stroke-linejoin="round" points="477,272.8 347.5,284.4 347.4,282.8 347.3,281.1 347.4,279.5 347.5,277.9 347.8,276.3 348.1,274.7 348.5,273.1 349,271.5 349.6,269.9 350.3,268.4 351,266.8 351.8,265.3 352.7,263.8 353.7,262.3 354.8,260.8 355.9,259.4 357.1,258 358.4,256.5 359.8,255.1 361.2,253.8 362.6,252.4 364.2,251.1 365.8,249.8 367.5,248.5 369.2,247.2 371,246 372.9,244.8 374.8,243.6 376.7,242.4 378.7,241.3 380.8,240.2 382.9,239.1 385.1,238 387.3,237 389.5,236 391.8,235 394.2,234.1 396.6,233.2 399,232.3 401.4,231.4 403.9,230.6 406.5,229.8 409,229 411.6,228.3 414.2,227.6 416.9,226.9 419.6,226.3 422.3,225.6 425,225.1 427.8,224.5 430.6,224 433.4,223.5 436.2,223 439,222.6 441.9,222.2 444.8,221.8 447.6,221.5 450.5,221.2 453.5,220.9 456.4,220.7 459.3,220.5 462.2,220.3 465.2,220.2 468.1,220 471.1,220 474,219.9 477,219.9"/>
<polygon fill="url(#g27)" stroke="url(#g27)" stroke-width="0.6" points="528.1,512.1 527.9,513.6 524.9,538.8 525.2,537.1"/>
<polygon fill="url(#g28)" stroke="url(#g28)" stroke-width="0.6" points="527.9,513.6 527.5,515.2 527.1,516.8 526.6,518.4 526,520 525.3,521.6 524.4,523.2 523.5,524.7 522.5,526.3 521.4,527.9 520.2,529.5 518.8,531 517.4,532.6 515.9,534.1 514.2,535.6 512.5,537.1 510.7,538.6 508.7,540.1 506.7,541.5 504.5,542.9 502.3,544.3 499.9,545.7 497.5,547 494.9,548.3 492.3,549.6 489.5,550.8 486.7,552 483.8,553.2 480.8,554.3 477.7,555.4 474.6,556.5 471.3,557.5 468,558.4 464.6,559.3 463,587 466.3,586 469.5,585 472.7,584 475.8,582.9 478.8,581.7 481.7,580.5 484.5,579.3 487.3,578 489.9,576.7 492.5,575.4 495,574 497.4,572.6 499.7,571.2 501.9,569.7 504,568.2 506,566.7 507.9,565.2 509.7,563.6 511.4,562 513,560.4 514.6,558.8 516,557.2 517.3,555.5 518.5,553.9 519.6,552.2 520.6,550.5 521.5,548.9 522.3,547.2 523,545.5 523.6,543.8 524.2,542.2 524.6,540.5 524.9,538.8"/>
<polygon fill="url(#g29)" stroke="url(#g29)" stroke-width="0.6" points="464.6,559.3 461.2,560.2 457.7,561 454.1,561.8 450.5,562.5 446.8,563.1 443.1,563.7 439.3,564.2 435.5,564.7 431.7,565.2 427.8,565.5 423.9,565.8 419.9,566.1 416,566.3 412,566.4 408.1,566.5 404.1,566.5 400.1,566.5 396.2,566.4 392.2,566.2 388.3,566 384.4,565.7 380.5,565.4 376.6,565 372.8,564.5 369,564 365.2,563.4 361.5,562.8 357.9,562.1 354.3,561.4 350.7,560.6 347.3,559.8 343.9,558.9 340.5,558 342.3,585.6 345.5,586.6 348.9,587.5 352.2,588.3 355.7,589.2 359.2,589.9 362.7,590.6 366.3,591.3 370,591.9 373.7,592.4 377.4,592.9 381.1,593.3 384.9,593.7 388.7,594 392.6,594.2 396.4,594.4 400.3,594.5 404.1,594.5 408,594.5 411.8,594.4 415.7,594.3 419.5,594.1 423.3,593.8 427.1,593.5 430.9,593.1 434.7,592.6 438.4,592.1 442,591.6 445.6,590.9 449.2,590.3 452.7,589.5 456.2,588.7 459.6,587.9 463,587"/>
<polygon fill="url(#g30)" stroke="url(#g30)" stroke-width="0.6" points="340.5,558 337.2,557 334,556 330.9,555 327.9,553.9 324.9,552.7 322,551.5 319.3,550.3 316.6,549.1 314,547.8 316.4,574.8 318.9,576.2 321.6,577.5 324.3,578.8 327.1,580 329.9,581.2 332.9,582.4 336,583.5 339.1,584.6 342.3,585.6"/>
<polygon fill="url(#g31)" stroke="url(#g31)" stroke-width="0.6" points="314,547.8 311.5,546.5 309.1,545.1 306.8,543.7 304.6,542.4 302.5,540.9 300.5,539.5 298.6,538 296.9,536.6 295.2,535.1 298,561.4 299.6,563 301.4,564.6 303.2,566.1 305.2,567.6 307.2,569.1 309.4,570.6 311.6,572 314,573.4 316.4,574.8"/>
<polygon fill="url(#g32)" stroke="url(#g32)" stroke-width="0.6" points="295.2,535.1 293.5,533.5 291.9,531.8 290.5,530.2 289.1,528.6 287.9,526.9 286.8,525.2 285.8,523.6 284.9,521.9 284.1,520.2 283.5,518.5 286.4,544 287.1,545.7 287.8,547.5 288.7,549.3 289.7,551.1 290.8,552.8 292,554.6 293.3,556.3 294.8,558 296.3,559.8 298,561.4"/>
<polygon fill="url(#g33)" stroke="url(#g33)" stroke-width="0.6" points="283.5,518.5 282.9,516.9 282.5,515.3 282.2,513.7 281.9,512.1 284.8,537.1 285.1,538.8 285.4,540.6 285.9,542.3 286.4,544"/>
<polygon fill="#1d65a3" stroke="#1d65a3" stroke-width="0.5" stroke-linejoin="round" points="405,497.7 405,451.3 408.8,451.4 412.6,451.4"/>
<polygon fill="#c03b3b" stroke="#c03b3b" stroke-width="0.5" stroke-linejoin="round" points="405,497.7 412.6,451.4 415.4,451.5 418.2,451.7 421,451.8 423.8,452 426.6,452.2 429.4,452.5 432.2,452.8 435,453.1 437.7,453.4 440.5,453.8"/>
<polygon fill="#7ca441" stroke="#7ca441" stroke-width="0.5" stroke-linejoin="round" points="405,497.7 440.5,453.8 443.4,454.2 446.3,454.7 449.2,455.2 452.1,455.7"/>
<polygon fill="#6c4e94" stroke="#6c4e94" stroke-width="0.5" stroke-linejoin="round" points="405,497.7 452.1,455.7 454.6,456.2 457.2,456.8 459.7,457.3 462.2,457.9 464.7,458.5 467.1,459.2 469.5,459.9 471.9,460.6 474.3,461.3 476.6,462 478.9,462.8 481.2,463.6 483.4,464.5 485.6,465.4 487.8,466.2 489.9,467.2 492,468.1 494,469.1 496,470.1 498,471.1 499.9,472.2 501.8,473.2 503.6,474.4 505.3,475.5 507.1,476.6 508.7,477.8 510.3,479 511.9,480.2 513.4,481.5 514.8,482.8 516.2,484.1"/>
<polygon fill="#1f93aa" stroke="#1f93aa" stroke-width="0.5" stroke-linejoin="round" points="405,497.7 516.2,484.1 517.5,485.4 518.7,486.7 519.9,488.1 521,489.4 522,490.8 523,492.2 523.9,493.7 524.7,495.1 525.4,496.6 526.1,498.1 526.6,499.6 527.1,501.1 527.5,502.6 527.8,504.2 528.1,505.7 528.2,507.3 528.3,508.9 528.2,510.4 528.1,512 527.9,513.6"/>
<polygon fill="#e4792c" stroke="#e4792c" stroke-width="0.5" stroke-linejoin="round" points="405,497.7 527.9,513.6 527.5,515.2 527.1,516.8 526.6,518.4 526,520 525.3,521.6 524.4,523.2 523.5,524.7 522.5,526.3 521.4,527.9 520.2,529.5 518.8,531 517.4,532.6 515.9,534.1 514.2,535.6 512.5,537.1 510.7,538.6 508.7,540.1 506.7,541.5 504.5,542.9 502.3,544.3 499.9,545.7 497.5,547 494.9,548.3 492.3,549.6 489.5,550.8 486.7,552 483.8,553.2 480.8,554.3 477.7,555.4 474.6,556.5 471.3,557.5 468,558.4 464.6,559.3"/>
<polygon fill="#2a81c5" stroke="#2a81c5" stroke-width="0.5" stroke-linejoin="round" points="405,497.7 464.6,559.3 461.2,560.2 457.7,561 454.1,561.8 450.5,562.5 446.8,563.1 443.1,563.7 439.3,564.2 435.5,564.7 431.7,565.2 427.8,565.5 423.9,565.8 419.9,566.1 416,566.3 412,566.4 408.1,566.5 404.1,566.5 400.1,566.5 396.2,566.4 392.2,566.2 388.3,566 384.4,565.7 380.5,565.4 376.6,565 372.8,564.5 369,564 365.2,563.4 361.5,562.8 357.9,562.1 354.3,561.4 350.7,560.6 347.3,559.8 343.9,558.9 340.5,558"/>
<polygon fill="#e04a4a" stroke="#e04a4a" stroke-width="0.5" stroke-linejoin="round" points="405,497.7 340.5,558 337.2,557 334,556 330.9,555 327.9,553.9 324.9,552.7 322,551.5 319.3,550.3 316.6,549.1 314,547.8"/>
<polygon fill="#93c055" stroke="#93c055" stroke-width="0.5" stroke-linejoin="round" points="405,497.7 314,547.8 311.5,546.5 309.1,545.1 306.8,543.7 304.6,542.4 302.5,540.9 300.5,539.5 298.6,538 296.9,536.6 295.2,535.1"/>
<polygon fill="#8a5bab" stroke="#8a5bab" stroke-width="0.5" stroke-linejoin="round" points="405,497.7 295.2,535.1 293.5,533.5 291.9,531.8 290.5,530.2 289.1,528.6 287.9,526.9 286.8,525.2 285.8,523.6 284.9,521.9 284.1,520.2 283.5,518.5"/>
<polygon fill="#1badcd" stroke="#1badcd" stroke-width="0.5" stroke-linejoin="round" points="405,497.7 283.5,518.5 282.9,516.9 282.5,515.4 282.2,513.8 281.9,512.2 281.8,510.6 281.7,509.1 281.8,507.5 281.9,506 282.1,504.4 282.4,502.9 282.8,501.4 283.3,499.9 283.8,498.4 284.4,497 285.1,495.5 285.9,494.1 286.8,492.7 287.7,491.2 288.7,489.9 289.7,488.5 290.9,487.2"/>
<polygon fill="#f7953b" stroke="#f7953b" stroke-width="0.5" stroke-linejoin="round" points="405,497.7 290.9,487.2 292.1,485.8 293.3,484.6 294.6,483.3 296,482 297.4,480.8 298.9,479.6 300.5,478.4 302,477.3 303.7,476.1 305.4,475 307.1,473.9 308.9,472.8 310.8,471.8 312.6,470.8 314.6,469.8 316.5,468.8 318.5,467.9 320.6,467 322.7,466.1 324.8,465.2 326.9,464.4 329.1,463.6 331.3,462.8 333.6,462 335.8,461.3 338.1,460.5 340.5,459.9 342.8,459.2"/>
<polygon fill="#a2b6d9" stroke="#a2b6d9" stroke-width="0.5" stroke-linejoin="round" points="405,497.7 342.8,459.2 345.6,458.5 348.4,457.8 351.2,457.1 354.1,456.5"/>
<polygon fill="#e8aaaa" stroke="#e8aaaa" stroke-width="0.5" stroke-linejoin="round" points="405,497.7 354.1,456.5 356.7,455.9 359.4,455.4 362,455 364.7,454.5 367.4,454.1 370.1,453.7 372.8,453.3 375.6,453 378.3,452.7"/>
<polygon fill="#c6dba8" stroke="#c6dba8" stroke-width="0.5" stroke-linejoin="round" points="405,497.7 378.3,452.7 381,452.4 383.6,452.2 386.3,452 388.9,451.8 391.6,451.7 394.3,451.6 397,451.5 399.6,451.4 402.3,451.4 405,451.3"/>
<line x1="236.5" y1="56.6" x2="349.6" y2="48.4" stroke="#000" stroke-width="2.2"/>
<line x1="229.9" y1="143.6" x2="348.4" y2="167.9" stroke="#000" stroke-width="2.2"/>
<line x1="238.4" y1="240.5" x2="353.2" y2="231.8" stroke="#000" stroke-width="2.2"/>
<line x1="232.3" y1="342.6" x2="353.2" y2="368" stroke="#000" stroke-width="2.2"/>
<text x="7.9" y="10.8" font-size="11.5" textLength="16.5" lengthAdjust="spacingAndGlyphs" font-weight="bold" fill="#111">(A)</text>
<text x="1.1" y="199.6" font-size="10.6" textLength="17" lengthAdjust="spacingAndGlyphs" font-weight="bold" fill="#111">(B)</text>
<text x="1.1" y="411.1" font-size="10.6" textLength="16.8" lengthAdjust="spacingAndGlyphs" font-weight="bold" fill="#111">(C)</text>
<text x="24.9" y="29" font-size="11" stroke="#111" stroke-width="0.3" textLength="47.5" lengthAdjust="spacingAndGlyphs" fill="#111">Unknown</text>
<text x="38.6" y="44.7" font-size="11" stroke="#111" stroke-width="0.3" textLength="20.3" lengthAdjust="spacingAndGlyphs" fill="#111">22%</text>
<text x="138.9" y="106.7" font-size="11" stroke="#0e2a50" stroke-width="0.3" textLength="49.4" lengthAdjust="spacingAndGlyphs" fill="#0e2a50">Cellular_c</text>
<text x="137.1" y="121.6" font-size="11" stroke="#0e2a50" stroke-width="0.3" textLength="52.1" lengthAdjust="spacingAndGlyphs" fill="#0e2a50">omponent</text>
<text x="153.1" y="136.7" font-size="11" stroke="#0e2a50" stroke-width="0.3" textLength="20.9" lengthAdjust="spacingAndGlyphs" fill="#0e2a50">78%</text>
<text x="48.1" y="262.1" font-size="11" stroke="#4a0a0a" stroke-width="0.3" textLength="47.3" lengthAdjust="spacingAndGlyphs" fill="#4a0a0a">Unknown</text>
<text x="61.2" y="277" font-size="11" stroke="#4a0a0a" stroke-width="0.3" textLength="21.4" lengthAdjust="spacingAndGlyphs" fill="#4a0a0a">39%</text>
<text x="150.9" y="276.4" font-size="11" stroke="#0e2a50" stroke-width="0.3" textLength="47.6" lengthAdjust="spacingAndGlyphs" fill="#0e2a50">biological</text>
<text x="153.3" y="291.4" font-size="11" stroke="#0e2a50" stroke-width="0.3" textLength="43.3" lengthAdjust="spacingAndGlyphs" fill="#0e2a50">_process</text>
<text x="164.2" y="307" font-size="11" stroke="#0e2a50" stroke-width="0.3" textLength="21.2" lengthAdjust="spacingAndGlyphs" fill="#0e2a50">61%</text>
<text x="510.8" y="53" font-size="11" stroke="#061624" stroke-width="0.3" textLength="20.2" lengthAdjust="spacingAndGlyphs" fill="#061624">20%</text>
<text x="574.5" y="83" font-size="11" stroke="#2a0d0d" stroke-width="0.3" textLength="14.2" lengthAdjust="spacingAndGlyphs" fill="#2a0d0d">8%</text>
<text x="577.6" y="105.8" font-size="11" stroke="#1b240e" stroke-width="0.3" textLength="14.2" lengthAdjust="spacingAndGlyphs" fill="#1b240e">6%</text>
<text x="557" y="124.9" font-size="11" stroke="#181121" stroke-width="0.3" textLength="14.2" lengthAdjust="spacingAndGlyphs" fill="#181121">6%</text>
<text x="523.5" y="138.6" font-size="11" stroke="#072025" stroke-width="0.3" textLength="14.2" lengthAdjust="spacingAndGlyphs" fill="#072025">5%</text>
<text x="486.1" y="144.4" font-size="11" stroke="#321b0a" stroke-width="0.3" textLength="14.2" lengthAdjust="spacingAndGlyphs" fill="#321b0a">5%</text>
<text x="454.9" y="145.4" font-size="11" stroke="#091c2b" stroke-width="0.3" textLength="14.2" lengthAdjust="spacingAndGlyphs" fill="#091c2b">4%</text>
<text x="429.4" y="151.9" font-size="11" stroke="#311010" stroke-width="0.3" textLength="14.2" lengthAdjust="spacingAndGlyphs" fill="#311010">3%</text>
<text x="405.3" y="147.4" font-size="11" stroke="#202a13" stroke-width="0.3" textLength="14.2" lengthAdjust="spacingAndGlyphs" fill="#202a13">3%</text>
<text x="383.2" y="137.4" font-size="11" stroke="#1e1426" stroke-width="0.3" textLength="14.2" lengthAdjust="spacingAndGlyphs" fill="#1e1426">2%</text>
<text x="361.1" y="131.3" font-size="11" stroke="#06262d" stroke-width="0.3" textLength="14.2" lengthAdjust="spacingAndGlyphs" fill="#06262d">2%</text>
<text x="369.5" y="118.8" font-size="11" stroke="#36210d" stroke-width="0.3" textLength="14.2" lengthAdjust="spacingAndGlyphs" fill="#36210d">2%</text>
<text x="409.9" y="66.5" font-size="11" stroke="#242830" stroke-width="0.3" textLength="20.2" lengthAdjust="spacingAndGlyphs" fill="#242830">34%</text>
<text x="510.8" y="241.8" font-size="11" stroke="#061624" stroke-width="0.3" textLength="20.2" lengthAdjust="spacingAndGlyphs" fill="#061624">18%</text>
<text x="574.8" y="275.8" font-size="11" stroke="#2a0d0d" stroke-width="0.3" textLength="20.2" lengthAdjust="spacingAndGlyphs" fill="#2a0d0d">12%</text>
<text x="569.9" y="307.5" font-size="11" stroke="#1b240e" stroke-width="0.3" textLength="14.2" lengthAdjust="spacingAndGlyphs" fill="#1b240e">7%</text>
<text x="534.5" y="325.1" font-size="11" stroke="#181121" stroke-width="0.3" textLength="14.2" lengthAdjust="spacingAndGlyphs" fill="#181121">7%</text>
<text x="492.5" y="333.4" font-size="11" stroke="#072025" stroke-width="0.3" textLength="14.2" lengthAdjust="spacingAndGlyphs" fill="#072025">6%</text>
<text x="457.4" y="335.4" font-size="11" stroke="#321b0a" stroke-width="0.3" textLength="14.2" lengthAdjust="spacingAndGlyphs" fill="#321b0a">5%</text>
<text x="424.3" y="330.5" font-size="11" stroke="#091c2b" stroke-width="0.3" textLength="14.2" lengthAdjust="spacingAndGlyphs" fill="#091c2b">4%</text>
<text x="386.3" y="336.3" font-size="11" stroke="#311010" stroke-width="0.3" textLength="14.2" lengthAdjust="spacingAndGlyphs" fill="#311010">4%</text>
<text x="372.3" y="322.2" font-size="11" stroke="#202a13" stroke-width="0.3" textLength="14.2" lengthAdjust="spacingAndGlyphs" fill="#202a13">3%</text>
<text x="359.9" y="314.8" font-size="11" stroke="#1e1426" stroke-width="0.3" textLength="14.2" lengthAdjust="spacingAndGlyphs" fill="#1e1426">2%</text>
<text x="354.6" y="306.5" font-size="11" stroke="#06262d" stroke-width="0.3" textLength="14.2" lengthAdjust="spacingAndGlyphs" fill="#06262d">2%</text>
<text x="352.5" y="298.3" font-size="11" stroke="#36210d" stroke-width="0.3" textLength="14.2" lengthAdjust="spacingAndGlyphs" fill="#36210d">2%</text>
<text x="406.4" y="248.8" font-size="15.5" stroke="#242830" stroke-width="0.3" textLength="28.7" lengthAdjust="spacingAndGlyphs" fill="#242830">28%</text>
<rect x="619.4" y="21.2" width="6.6" height="6.4" fill="#1d65a3"/>
<text x="629.6" y="27.7" font-size="11.2" stroke="#222" stroke-width="0.2" textLength="81.8" lengthAdjust="spacing" fill="#222">protein complex</text>
<rect x="619.4" y="35.5" width="6.6" height="6.4" fill="#c03b3b"/>
<text x="629.6" y="42" font-size="11.2" stroke="#222" stroke-width="0.2" textLength="73.8" lengthAdjust="spacing" fill="#222">mitochondrion</text>
<rect x="619.4" y="49.8" width="6.6" height="6.4" fill="#7ca441"/>
<text x="629.6" y="56.3" font-size="11.2" stroke="#222" stroke-width="0.2" textLength="113.8" lengthAdjust="spacing" fill="#222">endoplasmic reticulum</text>
<rect x="619.4" y="64.1" width="6.6" height="6.4" fill="#6c4e94"/>
<text x="629.6" y="70.6" font-size="11.2" stroke="#222" stroke-width="0.2" textLength="32.5" lengthAdjust="spacing" fill="#222">vesicle</text>
<rect x="619.4" y="78.4" width="6.6" height="6.4" fill="#1f93aa"/>
<text x="629.6" y="84.9" font-size="11.2" stroke="#222" stroke-width="0.2" textLength="90.7" lengthAdjust="spacing" fill="#222">actin cytoskeleton</text>
<rect x="619.4" y="92.7" width="6.6" height="6.4" fill="#e4792c"/>
<text x="629.6" y="99.2" font-size="11.2" stroke="#222" stroke-width="0.2" textLength="90.4" lengthAdjust="spacing" fill="#222">ribosomal subunit</text>
<rect x="619.4" y="107" width="6.6" height="6.4" fill="#2a81c5"/>
<text x="629.6" y="113.5" font-size="11.2" stroke="#222" stroke-width="0.2" textLength="73.8" lengthAdjust="spacing" fill="#222">apical complex</text>
<rect x="619.4" y="121.3" width="6.6" height="6.4" fill="#e04a4a"/>
<text x="629.6" y="127.8" font-size="11.2" stroke="#222" stroke-width="0.2" textLength="106" lengthAdjust="spacing" fill="#222">proteasome complex</text>
<rect x="619.4" y="135.6" width="6.6" height="6.4" fill="#93c055"/>
<text x="629.6" y="142.1" font-size="11.2" stroke="#222" stroke-width="0.2" textLength="66.9" lengthAdjust="spacing" fill="#222">Chromosome</text>
<rect x="619.4" y="149.9" width="6.6" height="6.4" fill="#8a5bab"/>
<text x="629.6" y="156.4" font-size="11.2" stroke="#222" stroke-width="0.2" textLength="108.5" lengthAdjust="spacing" fill="#222">protein-DNA complex</text>
<rect x="619.4" y="164.2" width="6.6" height="6.4" fill="#1badcd"/>
<text x="629.6" y="170.7" font-size="11.2" stroke="#222" stroke-width="0.2" textLength="37.4" lengthAdjust="spacing" fill="#222">rhoptry</text>
<rect x="619.4" y="178.5" width="6.6" height="6.4" fill="#f7953b"/>
<text x="629.6" y="185" font-size="11.2" stroke="#222" stroke-width="0.2" textLength="56.9" lengthAdjust="spacing" fill="#222">microneme</text>
<rect x="619.4" y="192.8" width="6.6" height="6.4" fill="#a2b6d9"/>
<text x="629.6" y="199.3" font-size="11.2" stroke="#222" stroke-width="0.2" textLength="33.4" lengthAdjust="spacing" fill="#222">Others</text>
<rect x="621.6" y="214.2" width="6.1" height="6.1" fill="#1d65a3"/>
<text x="631.4" y="220.7" font-size="11" stroke="#222" stroke-width="0.2" textLength="47" lengthAdjust="spacing" fill="#222">transport</text>
<rect x="621.6" y="227.8" width="6.1" height="6.1" fill="#c03b3b"/>
<text x="631.4" y="234.3" font-size="11" stroke="#222" stroke-width="0.2" textLength="54.6" lengthAdjust="spacing" fill="#222">proteolysis</text>
<rect x="621.6" y="241.4" width="6.1" height="6.1" fill="#7ca441"/>
<text x="631.4" y="247.9" font-size="11" stroke="#222" stroke-width="0.2" textLength="74.3" lengthAdjust="spacing" fill="#222">protein folding</text>
<rect x="621.6" y="254.9" width="6.1" height="6.1" fill="#6c4e94"/>
<text x="631.4" y="261.4" font-size="11" stroke="#222" stroke-width="0.2" textLength="140.5" lengthAdjust="spacing" fill="#222">oxidation-reduction process</text>
<rect x="621.6" y="268.5" width="6.1" height="6.1" fill="#1f93aa"/>
<text x="631.4" y="275" font-size="11" stroke="#222" stroke-width="0.2" textLength="125.6" lengthAdjust="spacing" fill="#222">protein catabolic process</text>
<rect x="621.6" y="282.1" width="6.1" height="6.1" fill="#e4792c"/>
<text x="631.4" y="288.6" font-size="11" stroke="#222" stroke-width="0.2" textLength="147.5" lengthAdjust="spacing" fill="#222">nucleotide metabolic process</text>
<rect x="621.6" y="295.7" width="6.1" height="6.1" fill="#2a81c5"/>
<text x="631.4" y="302.2" font-size="11" stroke="#222" stroke-width="0.2" textLength="103.4" lengthAdjust="spacing" fill="#222">homeostatic process</text>
<rect x="621.6" y="309.3" width="6.1" height="6.1" fill="#e04a4a"/>
<text x="631.4" y="315.8" font-size="11" stroke="#222" stroke-width="0.2" textLength="131.8" lengthAdjust="spacing" fill="#222">chromosome organization</text>
<rect x="621.6" y="322.8" width="6.1" height="6.1" fill="#93c055"/>
<text x="631.4" y="329.3" font-size="11" stroke="#222" stroke-width="0.2" textLength="47" lengthAdjust="spacing" fill="#222">glycolysis</text>
<rect x="621.6" y="336.4" width="6.1" height="6.1" fill="#8a5bab"/>
<text x="631.4" y="342.9" font-size="11" stroke="#222" stroke-width="0.2" textLength="119.5" lengthAdjust="spacing" fill="#222">translational elongation</text>
<rect x="621.6" y="350" width="6.1" height="6.1" fill="#1badcd"/>
<text x="631.4" y="356.5" font-size="11" stroke="#222" stroke-width="0.2" textLength="153.6" lengthAdjust="spacing" fill="#222">hemoglobin metabolic process</text>
<rect x="621.6" y="363.6" width="6.1" height="6.1" fill="#f7953b"/>
<text x="631.4" y="370.1" font-size="11" stroke="#222" stroke-width="0.2" textLength="120.8" lengthAdjust="spacing" fill="#222">immune system process</text>
<text x="188.9" y="417" font-size="10.8" stroke="#111" stroke-width="0.2" textLength="116.9" lengthAdjust="spacingAndGlyphs" font-weight="bold" fill="#111">AdoMet_Mtases_SF, 6</text>
<text x="137.6" y="430.8" font-size="10.8" stroke="#111" stroke-width="0.2" textLength="64" lengthAdjust="spacingAndGlyphs" font-weight="bold" fill="#111">NBD_sugar-</text>
<text x="115.7" y="443.3" font-size="10.8" stroke="#111" stroke-width="0.2" textLength="107.8" lengthAdjust="spacingAndGlyphs" font-weight="bold" fill="#111">kinase_HSP70_actin</text>
<text x="152.7" y="456.1" font-size="10.8" stroke="#111" stroke-width="0.2" textLength="32.9" lengthAdjust="spacingAndGlyphs" font-weight="bold" fill="#111">_SF, 4</text>
<text x="188.8" y="468" font-size="10.8" stroke="#111" stroke-width="0.2" textLength="93.2" lengthAdjust="spacingAndGlyphs" font-weight="bold" fill="#111">Rifin_STEVOR, 17</text>
<text x="178.1" y="509.3" font-size="10.8" stroke="#111" stroke-width="0.2" textLength="90.5" lengthAdjust="spacingAndGlyphs" font-weight="bold" fill="#111">PTZ00046_SF, 14</text>
<text x="194" y="558.5" font-size="10.8" stroke="#111" stroke-width="0.2" textLength="71.1" lengthAdjust="spacingAndGlyphs" font-weight="bold" fill="#111">HELICc_SF, 7</text>
<text x="197.4" y="578.4" font-size="10.8" stroke="#111" stroke-width="0.2" textLength="62" lengthAdjust="spacingAndGlyphs" font-weight="bold" fill="#111">WD40_SF, 6</text>
<text x="223.3" y="594.5" font-size="10.8" stroke="#111" stroke-width="0.2" textLength="83.3" lengthAdjust="spacingAndGlyphs" font-weight="bold" fill="#111">PTZ00341_SF, 6</text>
<text x="343.9" y="414.5" font-size="10.8" stroke="#111" stroke-width="0.2" textLength="55.4" lengthAdjust="spacingAndGlyphs" font-weight="bold" fill="#111">PHD_SF, 7</text>
<text x="425.2" y="413.7" font-size="10.8" stroke="#111" stroke-width="0.2" textLength="104.2" lengthAdjust="spacingAndGlyphs" font-weight="bold" fill="#111">ABC_ATPase_SF, 2</text>
<text x="440.5" y="429" font-size="10.8" stroke="#111" stroke-width="0.2" textLength="57.1" lengthAdjust="spacingAndGlyphs" font-weight="bold" fill="#111">RRM_SF, 7</text>
<text x="456.5" y="444.2" font-size="10.8" stroke="#111" stroke-width="0.2" textLength="56.4" lengthAdjust="spacingAndGlyphs" font-weight="bold" fill="#111">AAA_SF, 3</text>
<text x="521.7" y="460.3" font-size="10.8" stroke="#111" stroke-width="0.2" textLength="76.2" lengthAdjust="spacingAndGlyphs" font-weight="bold" fill="#111">PFEMP_SF, 21</text>
<text x="376.7" y="620.2" font-size="10.8" stroke="#111" stroke-width="0.2" textLength="81.1" lengthAdjust="spacingAndGlyphs" font-weight="bold" fill="#111">P-loop_NTPase</text>
<text x="396.8" y="631.7" font-size="10.8" stroke="#111" stroke-width="0.2" textLength="39.7" lengthAdjust="spacingAndGlyphs" font-weight="bold" fill="#111">_SF, 22</text>
<text x="545.5" y="504.5" font-size="10.8" stroke="#111" stroke-width="0.2" textLength="84.5" lengthAdjust="spacingAndGlyphs" font-weight="bold" fill="#111">PKc_like_SF, 13</text>
<text x="540.8" y="584.5" font-size="10.8" stroke="#111" stroke-width="0.2" textLength="61" lengthAdjust="spacingAndGlyphs" font-weight="bold" fill="#111">ATS_SF, 22</text>
<polyline fill="none" stroke="#2a2a2a" stroke-width="1.1" points="390.4,416.3 390.4,452"/>
<polyline fill="none" stroke="#2a2a2a" stroke-width="1.1" points="422.7,411.9 417.6,411.9 408.7,452"/>
<polyline fill="none" stroke="#2a2a2a" stroke-width="1.1" points="437.9,427.2 432.8,427.2 427,452.5"/>
<polyline fill="none" stroke="#2a2a2a" stroke-width="1.1" points="454.4,443.2 449.4,443.2 446.8,455"/>
<polyline fill="none" stroke="#2a2a2a" stroke-width="1.1" points="519.6,460.1 513.5,460.1 489.1,467.3"/>
<polyline fill="none" stroke="#2a2a2a" stroke-width="1.1" points="543,504.9 539,504.9 527.2,498.8"/>
<polyline fill="none" stroke="#2a2a2a" stroke-width="1.1" points="537.7,584.5 531.6,584.5 507.2,567.7"/>
<polyline fill="none" stroke="#2a2a2a" stroke-width="1.1" points="401.1,595.1 401.1,607.5"/>
<polyline fill="none" stroke="#2a2a2a" stroke-width="1.1" points="309.3,594.5 314.7,594.5 327.6,581.9"/>
<polyline fill="none" stroke="#2a2a2a" stroke-width="1.1" points="262.5,578.4 265.1,578.4 305.2,569.7"/>
<polyline fill="none" stroke="#2a2a2a" stroke-width="1.1" points="267.6,558.5 269.6,558.5 291.6,553.4"/>
<polyline fill="none" stroke="#2a2a2a" stroke-width="1.1" points="270.6,509.3 275.7,509.3 282.2,502.6"/>
<polyline fill="none" stroke="#2a2a2a" stroke-width="1.1" points="285.5,467.8 289.3,467.8 310.9,471.7"/>
<polyline fill="none" stroke="#2a2a2a" stroke-width="1.1" points="226,443.3 229,443.3 345.2,458.5"/>
<polyline fill="none" stroke="#2a2a2a" stroke-width="1.1" points="308.3,417 312.1,417 364.2,453.9"/>
</svg>
</body></html>
